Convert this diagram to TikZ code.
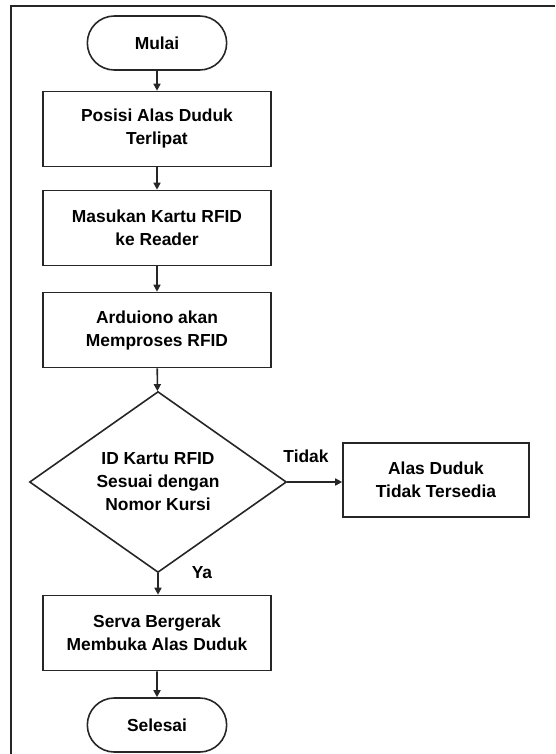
\documentclass[tikz,border=0pt]{standalone}
\usepackage{fontspec}
\setmainfont{Liberation Sans}
\usepackage{tikz}
\usetikzlibrary{positioning,shapes.geometric,shapes.misc,arrows.meta}
\tikzset{every node/.style={font=\fontsize{17.4}{23}\selectfont\bfseries}}
\tikzset{proses/.style={draw=black!85, line width=1.6pt, minimum width=228pt, minimum height=75pt, align=center, inner sep=0pt}}
\tikzset{terminal/.style={draw=black!85, rounded rectangle, line width=1.6pt, minimum width=146pt, minimum height=54pt}}
\tikzset{keputusan/.style={draw=black!85, diamond, line width=1.6pt, minimum width=257pt, minimum height=178pt, align=center, inner sep=0pt}}
\tikzset{panah/.style={draw=black!85, line width=1.6pt, -{Triangle[length=7pt,width=7pt]}}}

\begin{document}
\begin{tikzpicture}[x=1pt,y=-1pt]
\useasboundingbox (0,0) rectangle (555,754);
\draw[line width=2pt, black!85] (555,6) -- (11,6) -- (11,754);
\node[terminal] (mulai) at (157,43) {Mulai};
\node[proses] (posisi) at (157,129) {Posisi Alas Duduk\\Terlipat};
\node[proses] (masukan) at (157,228) {Masukan Kartu RFID\\ke Reader};
\node[proses] (arduino) at (157,330) {Arduiono akan\\Memproses RFID};
\node[keputusan] (cek) at (158,482) {ID Kartu RFID\\Sesuai dengan\\Nomor Kursi};
\node[proses, minimum width=186pt, minimum height=74pt] (tidaksedia) at (436,480) {Alas Duduk\\Tidak Tersedia};
\node[proses] (servo) at (157,633) {Serva Bergerak\\Membuka Alas Duduk};
\node[terminal] (selesai) at (157,725) {Selesai};
\draw[panah] (mulai) -- (posisi);
\draw[panah] (posisi) -- (masukan);
\draw[panah] (masukan) -- (arduino);
\draw[panah] (arduino) -- (cek);
\draw[panah] (cek.east) -- (tidaksedia.west |- cek.east);
\draw[panah] (cek.south) -- (servo.north -| cek.south);
\draw[panah] (servo) -- (selesai);
\node (tidak) at (306,456) {Tidak};
\node (ya) at (202,573) {Ya};
\end{tikzpicture}
\end{document}
